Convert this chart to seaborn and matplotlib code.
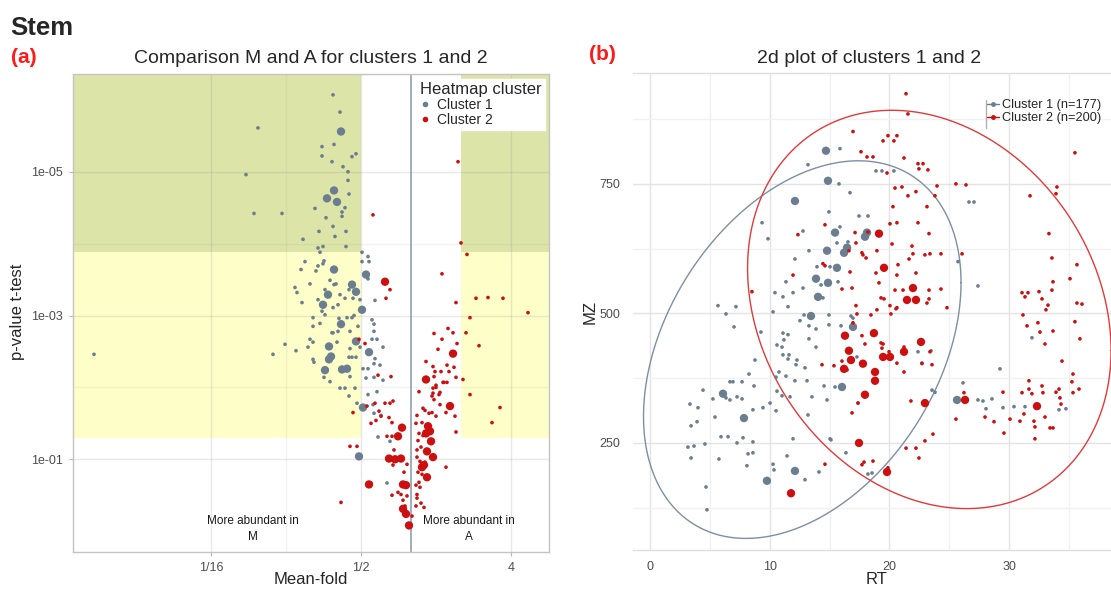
import numpy as np
import pandas as pd
import matplotlib
matplotlib.use("Agg")
import matplotlib.pyplot as plt
import seaborn as sns
from matplotlib.lines import Line2D
from matplotlib.ticker import NullLocator

sns.set_theme(style="white")
plt.rcParams['font.family'] = ['Liberation Sans', 'DejaVu Sans']

# ---------------- data: panel (a)  (log2 mean-fold, -log10 p-value, large flag)
a_cluster1 = [
    (-1.56,6.07,0),(-1.42,5.83,0),(-3.06,5.61,0),(-1.40,5.56,1),(-1.78,5.35,0),(-1.54,5.38,0),(-1.78,5.22,0),(-1.58,5.14,0),(-1.18,5.21,0),(-1.10,5.25,0),
    (-3.30,4.96,0),(-1.36,5.07,0),(-1.26,5.00,0),(-1.26,4.88,0),(-1.54,4.74,1),(-1.68,4.63,1),(-1.48,4.58,1),(-1.24,4.69,0),(-1.92,4.49,0),(-1.32,4.50,0),
    (-1.38,4.44,0),(-1.38,4.38,0),(-1.70,4.36,0),(-3.14,4.42,0),(-2.58,4.42,0),(-1.56,4.24,0),(-1.84,4.17,0),(-1.52,4.10,0),(-1.30,4.17,0),(-2.16,4.06,0),
    (-1.86,3.94,0),(-1.76,3.96,0),(-1.82,3.88,0),(-1.30,3.96,0),(-0.98,3.88,0),(-0.86,3.82,0),(-0.84,3.75,0),(-1.74,3.76,0),(-1.76,3.72,0),(-1.86,3.69,0),
    (-1.90,3.62,0),(-1.54,3.64,1),(-2.20,3.64,0),(-0.90,3.57,1),(-0.86,3.51,0),(-2.02,3.44,0),(-2.32,3.39,0),(-2.28,3.32,0),(-1.62,3.49,0),(-1.54,3.43,0),
    (-1.50,3.44,0),(-1.18,3.43,1),(-1.10,3.33,1),(-1.66,3.29,1),(-1.72,3.36,0),(-1.42,3.29,0),(-1.32,3.24,0),(-1.16,3.24,0),(-2.18,3.18,0),(-1.76,3.15,1),
    (-1.78,3.06,0),(-1.56,3.11,0),(-1.46,3.15,0),(-0.98,3.08,1),(-0.72,3.21,0),(-0.78,2.94,0),(-0.74,2.88,0),(-0.74,2.78,0),(-1.96,2.97,0),(-1.72,3.01,0),
    (-1.40,2.88,1),(-1.44,2.96,0),(-1.28,2.97,0),(-1.18,2.97,0),(-1.14,3.00,0),(-1.56,2.76,0),(-1.46,2.78,0),(-1.06,2.85,0),(-1.10,2.64,1),(-1.64,2.57,1),
    (-1.60,2.43,1),(-1.64,2.39,1),(-2.02,2.67,0),(-2.06,2.56,0),(-1.96,2.63,0),(-2.52,2.60,0),(-2.30,2.51,0),(-2.76,2.46,0),(-6.34,2.46,0),(-1.22,2.54,0),
    (-1.02,2.56,0),(-1.18,2.42,0),(-1.10,2.42,0),(-1.24,2.42,0),(-0.84,2.49,1),(-0.78,2.67,0),(-0.68,2.67,0),(-0.56,2.56,0),(-0.72,2.40,0),(-0.74,2.33,0),
    (-1.96,2.39,0),(-1.94,2.35,0),(-1.72,2.24,1),(-1.38,2.25,1),(-1.28,2.26,1),(-1.74,2.14,0),(-1.62,2.08,0),(-1.22,2.15,0),(-0.96,2.26,0),(-0.86,2.26,0),
    (-0.62,2.31,0),(-0.74,2.14,0),(-0.90,2.13,0),(-0.56,2.10,0),(-1.42,1.99,0),(-1.32,1.99,0),(-1.12,1.99,0),(-1.24,1.88,0),(-0.86,1.90,0),(-0.68,1.94,0),
    (-0.96,1.72,1),(-1.08,1.78,0),(-0.76,1.76,0),(-0.74,1.64,0),(-0.60,1.61,0),(-0.66,1.31,0),(-0.42,1.25,0),(-0.48,0.67,0),(-1.04,1.04,1),(-0.80,0.67,0),
    (-1.96,2.85,0),(-1.82,2.89,0),(-1.58,2.76,0),(-1.48,2.63,0),(-1.22,2.78,0),(-1.86,3.22,0),(-1.02,3.22,0),(-1.24,3.36,0),(-2.12,3.75,0),(-0.98,3.75,0),
]
a_cluster2 = [
    (-0.76,4.40,0),(0.94,5.14,0),(1.00,4.01,0),(1.12,3.85,0),(0.62,3.58,0),(-0.52,3.47,1),(-0.42,3.36,0),(-0.50,3.24,0),(0.90,3.18,0),(1.30,3.24,0),
    (1.54,3.25,0),(1.84,3.24,0),(2.34,3.04,0),(1.18,2.97,0),(-1.04,2.67,0),(-0.92,2.61,0),(-0.66,2.17,0),(-0.40,2.15,0),(0.46,2.75,0),(0.62,2.67,0),
    (0.74,2.82,0),(0.84,2.76,0),(0.92,2.61,0),(0.54,2.53,0),(0.84,2.47,1),(1.10,2.76,0),(1.36,2.58,0),(0.30,2.36,0),(0.44,2.29,0),(0.48,2.22,0),
    (0.60,2.22,0),(0.72,2.31,0),(0.76,2.22,0),(0.86,2.28,0),(0.90,2.14,0),(1.04,2.11,0),(0.30,2.11,1),(0.46,2.15,0),(0.50,2.00,0),(0.64,2.07,0),
    (0.72,2.07,0),(0.58,1.93,0),(0.16,1.94,0),(0.44,1.92,0),(0.46,1.83,0),(0.58,1.76,0),(0.78,1.74,1),(0.70,1.65,0),(-0.42,1.78,0),(-0.36,1.81,0),
    (-0.72,1.78,0),(-0.88,1.74,0),(-1.16,1.65,0),(-0.60,1.60,0),(-0.44,1.58,0),(0.28,1.68,0),(0.42,1.65,0),(0.50,1.60,0),(0.88,1.60,0),(1.78,1.72,0),
    (1.62,1.51,0),(0.90,1.38,0),(0.70,0.89,0),(-0.64,1.67,0),(-0.80,1.50,0),(-0.70,1.54,0),(-0.38,1.51,0),(-0.18,1.44,1),(-0.26,1.32,1),(-0.48,1.32,0),
    (-0.38,1.32,0),(-1.22,1.18,0),(-1.08,1.18,0),(-0.34,1.13,0),(-0.44,1.01,1),(-0.32,1.00,1),(-0.20,1.01,1),(-0.36,0.92,0),(-0.14,0.82,0),(-0.08,0.93,0),
    (-0.84,0.65,1),(-0.16,0.65,1),(-0.10,0.64,1),(-0.26,0.54,0),(-0.20,0.51,0),(-0.38,0.50,0),(-0.08,0.49,0),(-0.16,0.43,0),(-0.12,0.35,0),(-0.16,0.31,1),
    (-0.10,0.24,1),(-0.04,0.08,1),(-1.40,0.40,0),(0.44,1.99,0),(0.56,1.90,0),(0.42,1.88,0),(0.50,2.03,0),(0.66,2.07,0),(0.24,1.71,0),(0.36,1.64,0),
    (0.12,1.61,0),(0.10,1.50,0),(0.22,1.51,0),(0.34,1.46,1),(0.38,1.39,1),(0.30,1.36,1),(0.16,1.36,0),(0.24,1.33,0),(0.14,1.26,0),(0.40,1.25,1),
    (0.20,1.17,0),(0.12,1.13,0),(0.32,1.11,1),(0.44,1.03,1),(0.12,1.03,0),(0.18,0.97,0),(0.28,0.96,0),(0.22,0.89,1),(0.26,0.92,1),(0.14,0.82,0),
    (0.22,0.79,0),(0.32,0.75,1),(0.16,0.68,0),(0.10,0.64,0),(0.18,0.61,0),(0.12,0.51,0),(0.12,0.46,0),(0.20,0.39,0),(0.26,0.33,0),(0.10,0.35,0),
    (0.02,0.21,0),(1.18,1.90,0),(-0.52,1.78,0),
]

# ---------------- data: panel (b)  (RT, MZ, large flag)
b_cluster1 = [
    (14.70,814,1),(15.87,818,0),(13.20,787,0),(14.87,756,1),(15.79,750,0),(16.71,733,0),(12.11,717,1),(14.95,696,0),(17.46,688,0),(18.21,688,0),
    (18.88,775,0),(19.38,775,0),(20.38,775,0),(9.36,675,0),(9.86,644,0),(12.78,659,0),(15.46,656,1),(15.87,667,0),(17.96,648,1),(18.13,656,1),
    (15.62,636,0),(16.54,638,0),(13.28,621,0),(14.79,621,1),(16.46,627,1),(16.21,617,1),(12.11,605,0),(13.95,590,0),(15.62,588,1),(15.04,590,0),
    (13.87,567,1),(14.87,559,1),(14.29,555,0),(15.71,561,0),(11.36,561,0),(10.44,540,0),(11.95,540,0),(12.78,549,0),(14.04,532,1),(14.45,530,0),
    (11.11,532,0),(11.53,513,0),(5.68,515,0),(7.18,513,0),(6.35,499,0),(10.28,503,0),(13.45,495,1),(12.87,497,0),(12.53,486,0),(14.95,497,0),
    (16.79,495,0),(16.96,491,0),(7.02,474,0),(13.28,476,0),(13.87,470,0),(14.95,478,0),(15.96,476,0),(16.96,474,1),(9.27,464,0),(11.11,462,0),
    (11.53,459,0),(11.19,449,0),(13.28,451,0),(10.61,439,0),(11.03,435,0),(13.87,435,0),(18.55,459,0),(11.61,420,0),(11.11,420,0),(12.28,410,0),
    (11.53,412,0),(8.77,410,0),(10.78,387,0),(10.53,377,0),(12.95,395,0),(12.20,401,0),(11.36,379,0),(8.27,383,0),(6.93,368,0),(6.68,368,0),
    (7.69,368,0),(8.69,360,0),(12.11,370,0),(13.12,370,0),(14.54,360,0),(15.46,358,0),(16.04,358,1),(6.10,345,1),(4.43,352,0),(5.26,335,0),
    (6.35,337,0),(6.68,333,0),(7.27,339,0),(7.69,335,0),(10.61,350,0),(11.03,341,0),(11.70,339,0),(13.53,339,0),(14.79,333,0),(10.03,327,0),
    (3.34,325,0),(4.01,318,0),(9.44,318,0),(8.60,314,0),(10.53,312,0),(7.85,298,1),(5.43,300,0),(13.20,304,0),(3.93,291,0),(22.39,426,0),
    (23.48,428,0),(22.72,403,0),(26.65,715,0),(27.07,715,0),(25.73,600,0),(27.40,553,0),(17.29,416,0),(23.56,352,0),(23.81,348,0),(26.15,366,0),
    (29.24,393,0),(31.91,453,0),(27.40,333,0),(27.82,331,0),(28.57,335,0),(28.07,316,0),(29.49,318,0),(30.41,320,0),(31.33,320,0),(34.17,314,0),
    (34.75,316,0),(17.38,327,0),(16.37,231,0),(18.21,190,0),(18.55,192,0),(15.04,258,0),(25.65,333,1),(3.43,283,0),(3.17,242,0),(3.68,244,0),
    (3.43,221,0),(4.59,248,0),(5.76,219,0),(5.93,262,0),(6.52,262,0),(7.27,250,0),(7.77,260,0),(8.60,252,0),(8.19,229,0),(8.60,231,0),
    (8.10,206,0),(4.68,165,0),(4.76,121,0),(10.28,209,0),(10.36,198,0),(11.45,225,0),(11.95,258,0),(12.11,196,1),(9.77,177,1),(12.95,179,0),
    (14.12,194,0),(15.12,256,0),
]
b_cluster2 = [
    (21.39,924,0),(21.55,885,0),(16.96,851,0),(19.47,833,0),(19.88,843,0),(20.63,843,0),(20.38,833,0),(17.63,812,0),(18.13,802,0),(18.63,802,0),
    (21.22,800,0),(35.50,810,0),(22.39,789,0),(22.81,789,0),(22.47,779,0),(23.22,777,0),(19.80,771,0),(20.47,742,0),(21.05,744,0),(21.55,727,0),
    (22.22,735,0),(23.98,746,0),(23.81,727,0),(25.56,750,0),(26.40,748,0),(20.30,706,0),(23.14,706,0),(31.75,727,0),(34.00,744,0),(33.92,731,0),
    (20.05,673,0),(20.63,675,0),(22.39,675,0),(23.31,654,0),(19.13,654,1),(17.13,656,0),(18.21,657,0),(14.62,671,0),(12.36,652,0),(16.62,621,0),
    (17.71,617,0),(17.21,636,0),(18.96,621,0),(20.22,634,0),(21.89,630,0),(23.39,615,0),(24.31,615,0),(26.07,615,0),(33.33,654,0),(33.58,607,0),
    (19.55,588,1),(18.88,578,0),(20.72,594,0),(22.22,578,0),(20.63,574,0),(16.71,580,0),(17.79,613,0),(18.05,607,0),(21.64,605,0),(21.97,615,0),
    (22.97,613,0),(14.45,596,0),(14.62,592,0),(11.95,574,0),(35.67,594,0),(35.09,567,0),(33.67,561,0),(16.88,549,0),(19.13,559,0),(21.97,549,1),
    (20.47,545,0),(21.14,545,0),(23.31,545,0),(24.31,547,0),(8.52,542,0),(16.04,547,0),(21.47,526,1),(22.22,526,1),(23.31,528,0),(19.30,530,0),
    (19.55,528,0),(31.08,540,0),(31.58,540,0),(32.50,542,0),(31.33,532,0),(32.75,528,0),(33.58,545,0),(33.25,516,0),(33.08,507,0),(35.67,520,0),
    (20.05,515,0),(20.63,511,0),(23.14,520,0),(24.81,511,0),(17.21,515,0),(18.96,507,0),(20.55,509,0),(18.46,497,0),(20.13,499,0),(17.29,499,0),
    (16.96,482,0),(31.16,497,0),(32.41,482,0),(31.50,476,0),(35.50,484,0),(16.29,457,1),(17.71,457,0),(18.71,462,1),(19.47,441,0),(17.96,441,0),
    (16.62,428,1),(19.38,433,0),(19.97,426,0),(19.47,416,1),(20.05,416,1),(21.22,426,1),(22.64,445,1),(16.04,408,0),(16.79,410,1),(17.79,403,1),
    (20.63,404,0),(14.37,401,0),(15.37,399,0),(16.21,393,1),(16.46,391,0),(18.80,387,1),(18.80,370,1),(21.22,387,0),(22.72,404,0),(23.56,401,0),
    (23.39,426,0),(19.30,443,0),(21.22,435,0),(17.96,343,1),(17.38,327,0),(16.88,308,0),(21.80,331,0),(22.97,327,1),(26.32,333,1),(32.33,321,1),
    (17.46,250,1),(19.80,194,1),(11.78,153,1),(23.64,267,0),(22.97,254,0),(21.39,240,0),(22.22,240,0),(22.47,221,0),(17.71,208,0),(17.88,213,0),
    (18.63,215,0),(19.88,202,0),(14.62,209,0),(25.56,296,0),(26.23,347,0),(27.99,300,0),(28.74,291,0),(29.49,348,0),(29.57,269,0),(30.08,296,0),
    (30.91,292,0),(31.08,347,0),(31.24,306,0),(31.66,354,0),(32.08,292,0),(32.16,281,0),(32.16,258,0),(31.91,345,0),(31.66,370,0),(32.75,360,0),
    (32.83,347,0),(33.00,300,0),(33.42,279,0),(33.67,279,0),(33.92,348,0),(34.17,354,0),(34.25,337,0),(34.34,325,0),(35.25,368,0),(35.34,347,0),
    (35.84,354,0),(35.34,383,0),(34.42,408,0),(32.58,464,0),(33.67,466,0),(33.00,441,0),(35.92,451,0),(36.09,518,0),
]

cluster_names = ["Cluster 1", "Cluster 2"]
legend_b_labels = ["Cluster 1 (n=177)", "Cluster 2 (n=200)"]
x_ticks_a = [1/16, 1/2, 4]
x_ticklabels_a = ["1/16", "1/2", "4"]
y_ticks_a = [1e-5, 1e-3, 1e-1]
y_ticklabels_a = ["1e-05", "1e-03", "1e-01"]
fold_cut = 2.0
p_cut = 0.05
n_tests = 377

BLUE = "#6a7e8f"
RED = "#cc1010"
palette = {cluster_names[0]: BLUE, cluster_names[1]: RED}
sizes = {0: 7, 1: 36}

def frame_a(rows, name):
    d = pd.DataFrame(rows, columns=["log2fold", "neglog10p", "big"])
    d["fold"] = 2.0 ** d["log2fold"]
    d["p"] = 10.0 ** (-d["neglog10p"])
    d["cluster"] = name
    return d

def frame_b(rows, name):
    d = pd.DataFrame(rows, columns=["RT", "MZ", "big"])
    d["cluster"] = name
    return d

dfa = pd.concat([frame_a(a_cluster1, cluster_names[0]), frame_a(a_cluster2, cluster_names[1])], ignore_index=True)
dfb = pd.concat([frame_b(b_cluster1, cluster_names[0]), frame_b(b_cluster2, cluster_names[1])], ignore_index=True)

W, H = 1111, 592
fig = plt.figure(figsize=(W / 100, H / 100), dpi=100)
fig.patch.set_facecolor("white")

# ================= panel (a)
ax1 = fig.add_axes([73 / W, 40 / H, 476 / W, 478 / H])
ax1.set_xscale("log", base=2)
ax1.set_yscale("log")
xlo, xhi = 2 ** -6.76, 2 ** 2.76
ylo, yhi = 10 ** 0.29, 10 ** -6.36
p_bonf = p_cut / n_tests
GREEN_FILL = "#dce4a8"
YELLOW_FILL = "#fefec8"
for x0, x1 in [(xlo, 1 / fold_cut), (fold_cut, xhi)]:
    ax1.fill_between([x0, x1], yhi, p_bonf, color=GREEN_FILL, lw=0, zorder=0.3)
    ax1.fill_between([x0, x1], p_bonf, p_cut, color=YELLOW_FILL, lw=0, zorder=0.3)
for yv in y_ticks_a:
    ax1.axhline(yv, color=(0.55, 0.55, 0.55, 0.2), lw=1, zorder=0.6)
for yv in [1e-4, 1e-2]:
    ax1.axhline(yv, color=(0.55, 0.55, 0.55, 0.1), lw=1, zorder=0.6)
for xv in x_ticks_a:
    ax1.axvline(xv, color=(0.55, 0.55, 0.55, 0.2), lw=1, zorder=0.6)
ax1.axvline(2 ** -2.5, color=(0.55, 0.55, 0.55, 0.1), lw=1, zorder=0.6)
ax1.axvline(1.0, color="#8797aa", lw=1.1, zorder=0.9)

sns.scatterplot(data=dfa, x="fold", y="p", hue="cluster", palette=palette,
                size="big", sizes=sizes, linewidth=0, legend=False, ax=ax1, zorder=2)
ax1.set_xlim(xlo, xhi)
ax1.set_ylim(ylo, yhi)
ax1.set_xticks(x_ticks_a)
ax1.set_xticklabels(x_ticklabels_a)
ax1.set_yticks(y_ticks_a)
ax1.set_yticklabels(y_ticklabels_a)
ax1.xaxis.set_minor_locator(NullLocator())
ax1.yaxis.set_minor_locator(NullLocator())
ax1.tick_params(axis="both", which="major", labelsize=9, labelcolor="#4d4d4d",
                color="#b5b5b5", length=3, width=0.8, pad=4, left=True, bottom=True)
ax1.set_xlabel("")
ax1.set_ylabel("")
for s in ax1.spines.values():
    s.set_color("#c4c4c4")
    s.set_linewidth(1)

ax1.text((253 - 73) / 476, (552 - 529) / 478, "More abundant in\nM", transform=ax1.transAxes,
         ha="center", va="center", fontsize=8.5, color="#1a1a1a", linespacing=1.55, zorder=3)
ax1.text((469 - 73) / 476, (552 - 529) / 478, "More abundant in\nA", transform=ax1.transAxes,
         ha="center", va="center", fontsize=8.5, color="#1a1a1a", linespacing=1.55, zorder=3)

handles_a = [Line2D([], [], ls="", marker="o", ms=3, color=palette[n], label=n) for n in cluster_names]
leg = ax1.legend(handles=handles_a, title="Heatmap cluster", loc="upper right",
                 bbox_to_anchor=((545 - 73) / 476, (552 - 79) / 478), frameon=True,
                 fontsize=10, title_fontsize=12, borderpad=0.25, labelspacing=0.05,
                 handlelength=0.8, handletextpad=0.4, borderaxespad=0, fancybox=False)
leg.get_frame().set_edgecolor("white")
leg.get_frame().set_facecolor("white")
leg.get_frame().set_alpha(1)
leg._legend_box.align = "left"
leg.set_zorder(5)

# ================= panel (b)
ax2 = fig.add_axes([633 / W, 42 / H, 488 / W, 477 / H])
ax2.set_xlim(-1.42, 39.35)
ax2.set_ylim(43.4, 964)
ax2.set_xticks([0, 10, 20, 30])
ax2.set_yticks([250, 500, 750])
ax2.set_xticks([5, 15, 25, 35], minor=True)
ax2.set_yticks([125, 375, 625, 875], minor=True)
ax2.grid(which="major", color="#e3e3e3", lw=1)
ax2.grid(which="minor", color="#f1f1f1", lw=1)
ax2.set_axisbelow(True)

sns.scatterplot(data=dfb, x="RT", y="MZ", hue="cluster", palette=palette,
                size="big", sizes=sizes, linewidth=0, legend=False, ax=ax2, zorder=2)

def cov_trob(pts, nu=5, maxit=50, tol=0.01):
    # multivariate-t robust location/scatter (as used by stat_ellipse type "t")
    n, p = pts.shape
    loc = pts.mean(axis=0)
    w = np.ones(n)
    for _ in range(maxit):
        w0 = w
        X = pts - loc
        A = np.sqrt(w / w.sum())[:, None] * X
        _, d, vt = np.linalg.svd(A, full_matrices=False)
        wX = X @ vt.T @ np.diag(1.0 / d)
        Q = (wX ** 2).sum(axis=1)
        w = (nu + p) / (nu + Q)
        loc = (w[:, None] * pts).sum(axis=0) / w.sum()
        if np.all(np.abs(w - w0) < tol):
            break
    X = pts - loc
    cov = (np.sqrt(w)[:, None] * X).T @ (np.sqrt(w)[:, None] * X) / n
    return loc, cov

def stat_ellipse(x, y, level=0.95, npts=200):
    pts = np.column_stack([x, y])
    n = len(pts)
    center, cov = cov_trob(pts)
    df2 = n - 1
    fq = (df2 / 2.0) * ((1 - level) ** (-2.0 / df2) - 1)
    radius = np.sqrt(2 * fq)
    t = np.linspace(0, 2 * np.pi, npts)
    unit = np.column_stack([np.cos(t), np.sin(t)])
    chol = np.linalg.cholesky(cov)
    return center + radius * unit @ chol.T

ell_colors = {cluster_names[0]: "#7d8fa1", cluster_names[1]: "#e03a3a"}
for name in cluster_names:
    sub = dfb[dfb["cluster"] == name]
    e = stat_ellipse(sub["RT"].values, sub["MZ"].values)
    ax2.plot(e[:, 0], e[:, 1], color=ell_colors[name], lw=1, zorder=1.5)

ax2.set_xlim(-1.42, 39.35)
ax2.set_ylim(43.4, 964)
ax2.set_xlabel("")
ax2.set_ylabel("")
ax2.tick_params(axis="both", which="both", labelsize=9, labelcolor="#4d4d4d", length=0, pad=8)
ax2.tick_params(axis="y", which="major", length=6, color="#e3e3e3", pad=3)
for side in ["left", "right"]:
    ax2.spines[side].set_visible(False)
for side in ["top", "bottom"]:
    ax2.spines[side].set_color("#dedede")
    ax2.spines[side].set_linewidth(1)

handles_b = [Line2D([], [], ls="-", lw=1, marker="o", ms=2.5, color=palette[n], label=l)
             for n, l in zip(cluster_names, legend_b_labels)]
fig.legend(handles=handles_b, loc="upper left", bbox_to_anchor=(986.5 / W, 1 - 99 / H),
           frameon=False, fontsize=9.2, labelspacing=0.1, handlelength=1.0,
           handletextpad=0.2, borderpad=0, borderaxespad=0)
fig.add_artist(Line2D([986 / W, 986 / W], [1 - 100 / H, 1 - 128 / H], color="#b0b0b0", lw=1))

# ================= texts
fig.text(10 / W, 1 - 35 / H, "Stem", fontsize=18.5, fontweight="bold",
         family=["Liberation Sans", "DejaVu Sans"], ha="left", va="baseline")
fig.text(11 / W, 1 - 63 / H, "(a)", fontsize=15, fontweight="bold", color="#ff1a1a", ha="left", va="baseline")
fig.text(589 / W, 1 - 60 / H, "(b)", fontsize=15, fontweight="bold", color="#ff1a1a", ha="left", va="baseline")
fig.text(311 / W, 1 - 63 / H, "Comparison M and A for clusters 1 and 2", fontsize=14, ha="center", va="baseline")
fig.text(869 / W, 1 - 63 / H, "2d plot of clusters 1 and 2", fontsize=14, ha="center", va="baseline")
fig.text(18 / W, 1 - 312 / H, "p-value t-test", fontsize=12, rotation=90, ha="center", va="center")
fig.text(311 / W, 1 - 579 / H, "Mean-fold", fontsize=12, ha="center", va="center")
fig.text(590 / W, 1 - 312 / H, "MZ", fontsize=12, rotation=90, ha="center", va="center")
fig.text(877 / W, 1 - 579 / H, "RT", fontsize=12, ha="center", va="center")

fig.savefig("out.png", dpi=100, facecolor="white")
